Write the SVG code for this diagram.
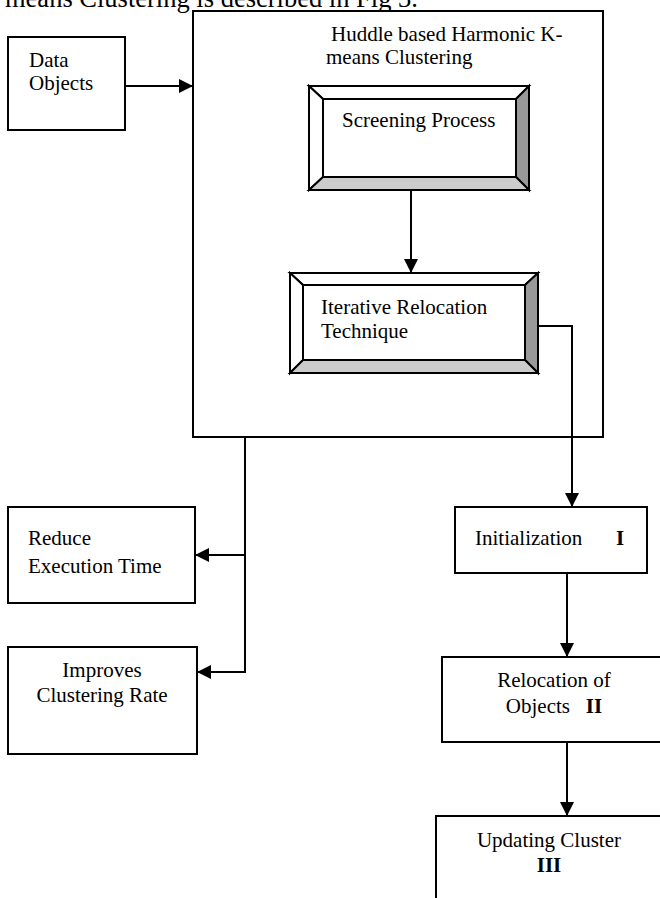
<svg xmlns="http://www.w3.org/2000/svg" width="660" height="898" viewBox="0 0 660 898">
<style>
text{font-family:"Liberation Serif","Times New Roman",serif;font-size:21px;fill:#000}
.box{fill:#fff;stroke:#000;stroke-width:2}
.bev{stroke:#000;stroke-width:2;stroke-linejoin:miter}
.hi{fill:#fff}.dk{fill:#999}.lt{fill:#ccc}
.con{fill:none;stroke:#000;stroke-width:2}
.b{font-weight:bold}
.c{text-anchor:middle}
</style>
<defs>
<marker id="ah" viewBox="0 0 14 14" refX="14" refY="7" markerWidth="14" markerHeight="14" markerUnits="userSpaceOnUse" orient="auto">
<path d="M0,0 L14,7 L0,14 z" fill="#000"/>
</marker>
</defs>
<text x="5" y="7" style="font-size:26.5px">means Clustering is described in Fig 3.</text>
<g id="data-objects">
<rect class="box" x="8" y="37" width="117" height="93"/>
<text x="29" y="67">Data</text>
<text x="29" y="90">Objects</text>
</g>
<g id="hhkm">
<rect class="box" x="193" y="11" width="410" height="426"/>
<text x="331" y="41">Huddle based Harmonic K-</text>
<text x="326" y="64">means Clustering</text>
</g>
<g id="screening">
<polygon class="bev hi" points="309,86 529,86 516,99 323,99"/>
<polygon class="bev hi" points="309,86 323,99 323,177 309,190"/>
<polygon class="bev dk" points="529,86 529,190 516,177 516,99"/>
<polygon class="bev lt" points="309,190 529,190 516,177 323,177"/>
<rect class="box" x="323" y="99" width="193" height="78"/>
<text x="342" y="127">Screening Process</text>
</g>
<g id="iterative">
<polygon class="bev hi" points="290,273 538,273 525,285 303,285"/>
<polygon class="bev hi" points="290,273 303,285 303,360 290,373"/>
<polygon class="bev dk" points="538,273 538,373 525,360 525,285"/>
<polygon class="bev lt" points="290,373 538,373 525,360 303,360"/>
<rect class="box" x="303" y="285" width="222" height="75"/>
<text x="321" y="314">Iterative Relocation</text>
<text x="321" y="338">Technique</text>
</g>
<g id="reduce">
<rect class="box" x="8" y="507" width="187" height="96"/>
<text x="28" y="545">Reduce</text>
<text x="28" y="573">Execution Time</text>
</g>
<g id="improves">
<rect class="box" x="8" y="647" width="189" height="107"/>
<text class="c" x="102" y="677">Improves</text>
<text class="c" x="102" y="702">Clustering Rate</text>
</g>
<g id="initialization">
<rect class="box" x="455" y="507" width="192" height="66"/>
<text x="475" y="545">Initialization</text>
<text class="b" x="616" y="545">I</text>
</g>
<g id="relocation">
<rect class="box" x="442" y="657" width="226" height="85"/>
<text class="c" x="554" y="687">Relocation of</text>
<text class="c" x="554" y="713" xml:space="preserve">Objects   <tspan class="b">II</tspan></text>
</g>
<g id="updating">
<rect class="box" x="436" y="816" width="229" height="90"/>
<text class="c" x="549" y="847">Updating Cluster</text>
<text class="c b" x="549" y="872">III</text>
</g>
<g id="connectors">
<path class="con" d="M125,86 H193" marker-end="url(#ah)"/>
<path class="con" d="M411,190 V273" marker-end="url(#ah)"/>
<path class="con" d="M538,326 H572 V507" marker-end="url(#ah)"/>
<path class="con" d="M245,437 V672 H197" marker-end="url(#ah)"/>
<path class="con" d="M245,555 H195" marker-end="url(#ah)"/>
<path class="con" d="M567,573 V657" marker-end="url(#ah)"/>
<path class="con" d="M567,742 V816" marker-end="url(#ah)"/>
</g>
</svg>
